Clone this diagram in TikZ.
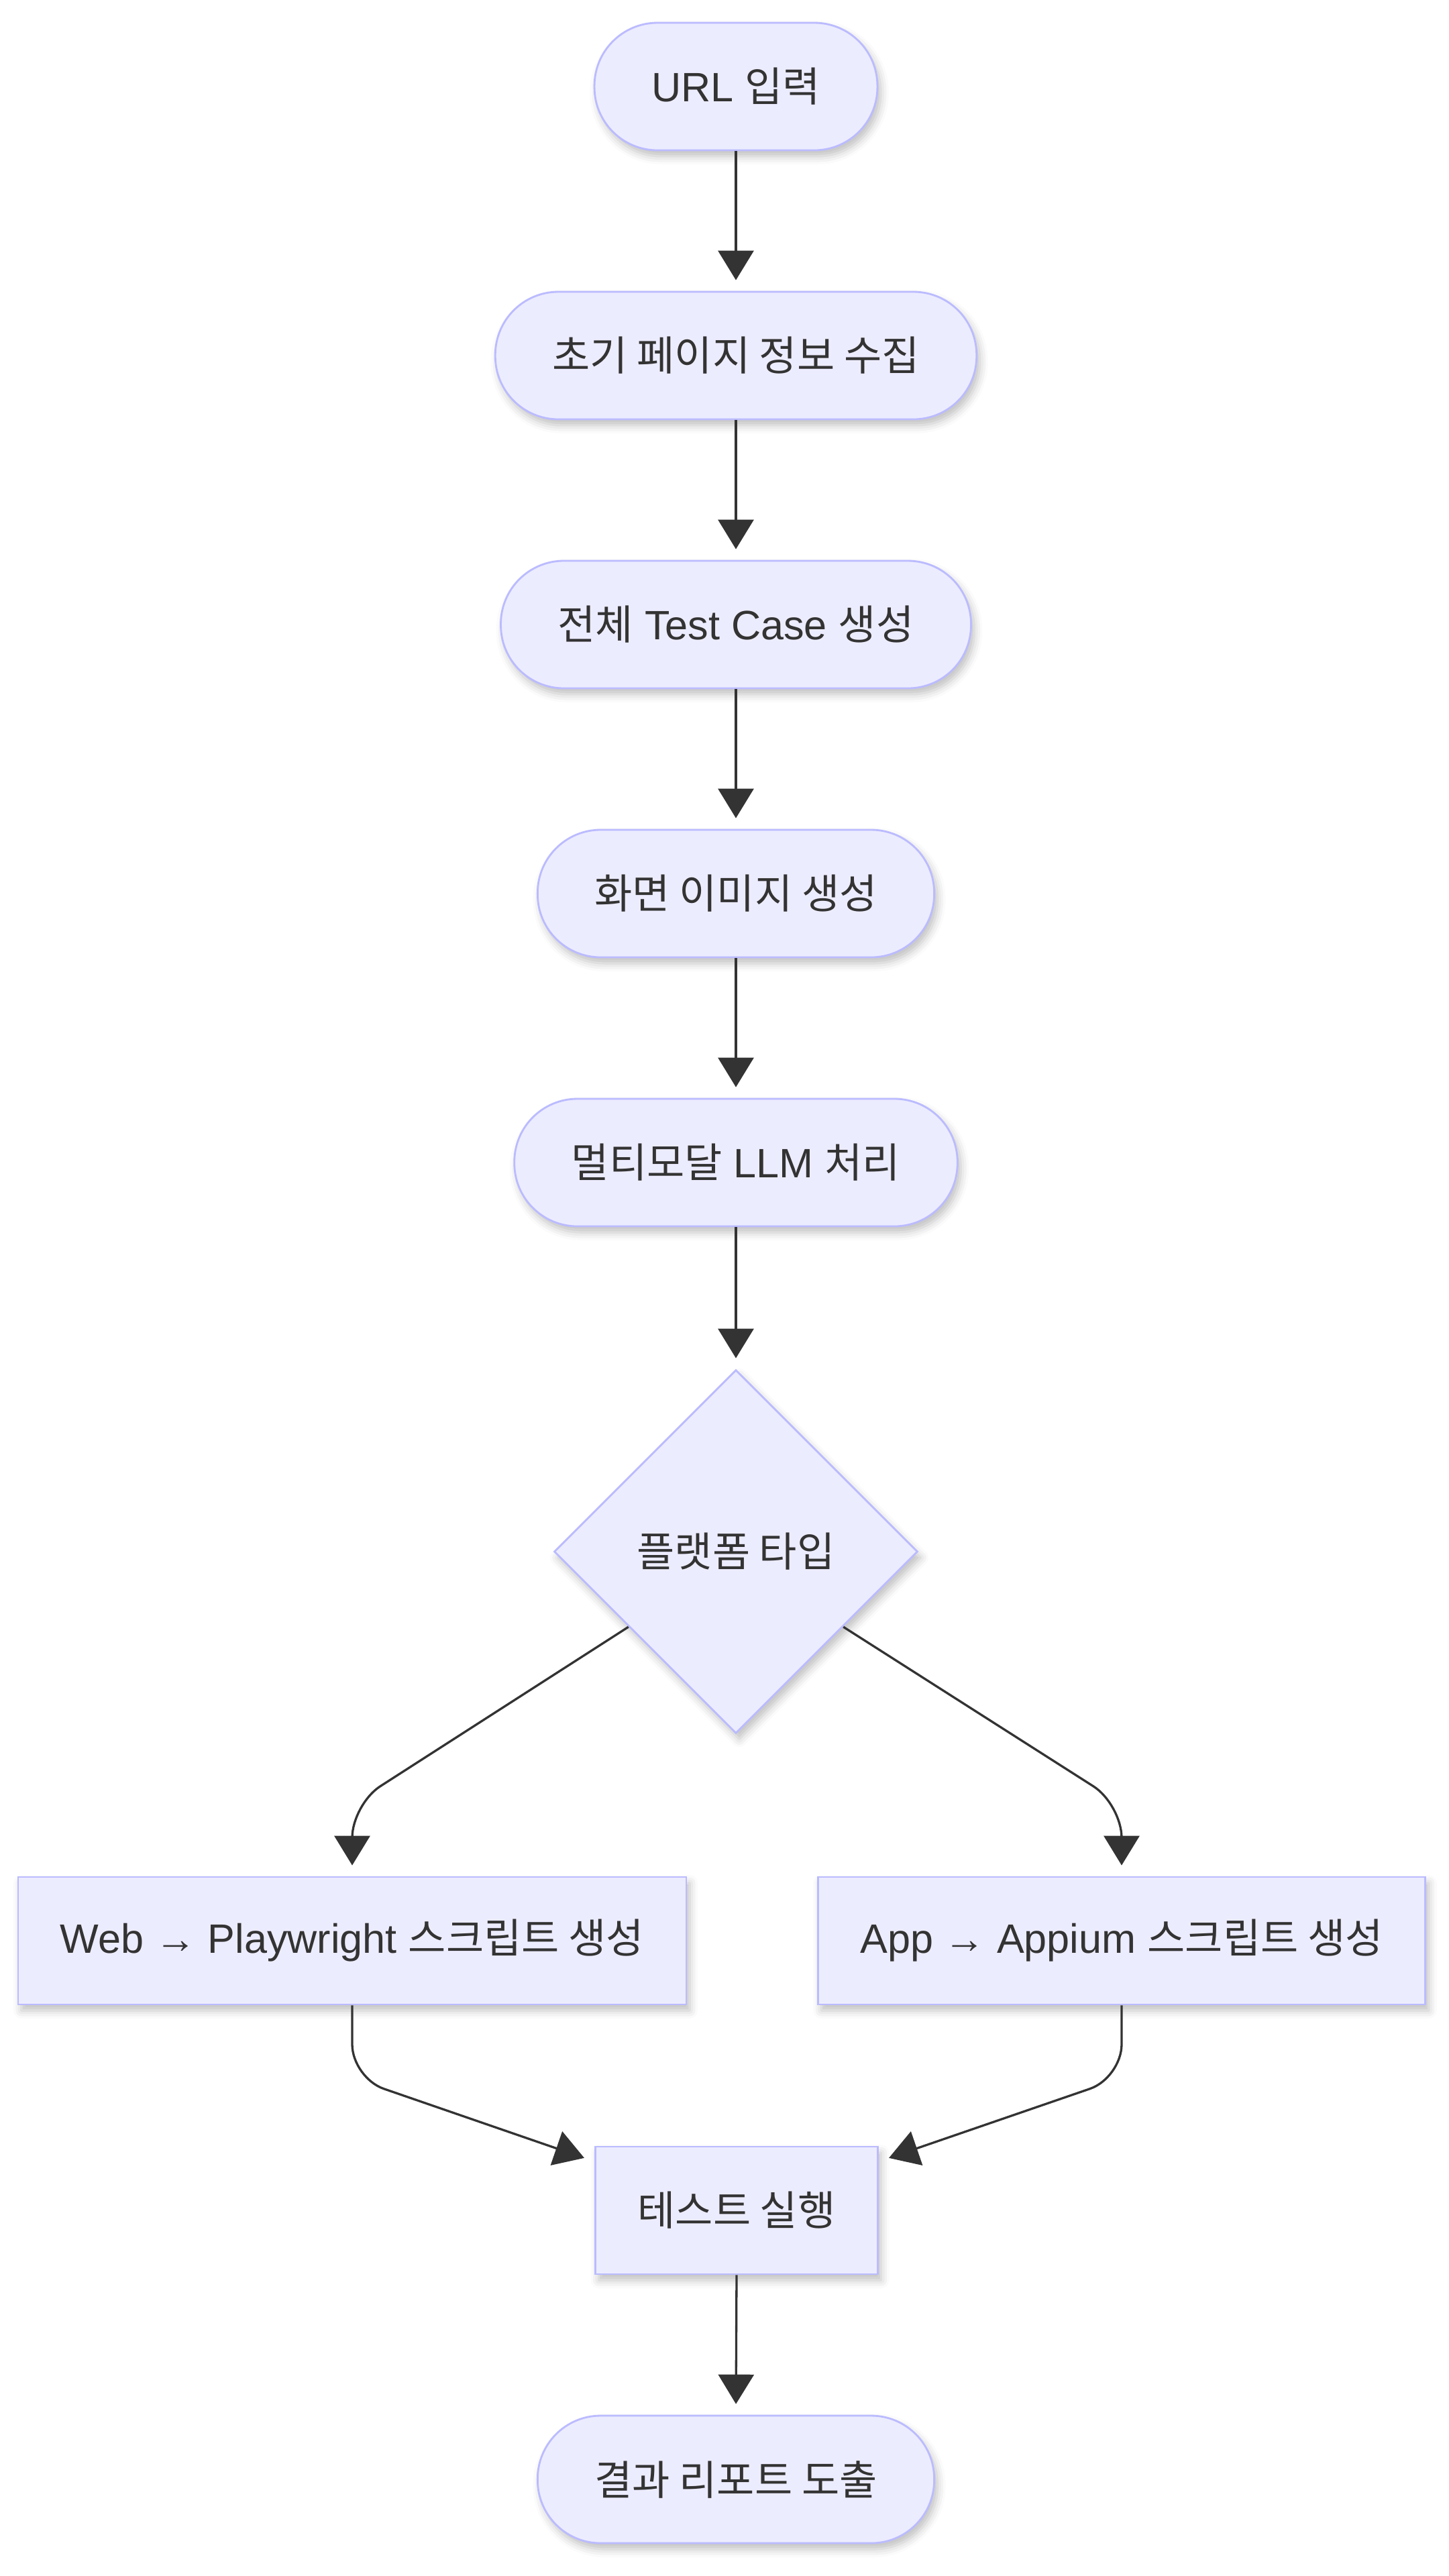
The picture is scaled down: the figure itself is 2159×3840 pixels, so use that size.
\documentclass[tikz,border=0pt]{standalone}
\usepackage{fontspec}
\setmainfont{Liberation Sans}
\newfontfamily\kr{Noto Sans CJK KR}
\usetikzlibrary{arrows.meta,shapes.geometric,calc,shadows.blur}
\definecolor{nodefill}{HTML}{ECECFF}
\definecolor{nodeline}{HTML}{BBBBFF}
\definecolor{ink}{HTML}{333333}
\begin{document}
\begin{tikzpicture}[x=0.1mm,y=-0.1mm,
  box/.style={draw=nodeline,fill=nodefill,line width=0.28mm,text=ink,font=\fontsize{17.4}{20}\selectfont,minimum height=19mm,inner ysep=0pt,blur shadow={shadow xshift=0.5mm,shadow yshift=-0.9mm,shadow blur radius=1.2mm,shadow opacity=25}},
  pill/.style={box,rounded corners=9.4mm,inner xsep=8.5mm},
  plain/.style={box,inner xsep=6.3mm},
  choice/.style={box,diamond,minimum width=54.2mm,minimum height=54.2mm,inner sep=0pt},
  flow/.style={draw=ink,line width=0.33mm,-{Triangle[length=4.4mm,width=5.3mm]},shorten >=1.6mm,rounded corners=5mm}]
\useasboundingbox (0,0) rectangle (2159,3840);
\node[pill] (url) at (1097,129) {URL {\kr 입력}};
\node[pill] (init) at (1097,530) {{\kr 초기 페이지 정보 수집}};
\node[pill] (tc) at (1097,931) {{\kr 전체} Test Case {\kr 생성}};
\node[pill] (img) at (1097,1332) {{\kr 화면 이미지 생성}};
\node[pill] (llm) at (1097,1733) {{\kr 멀티모달} LLM {\kr 처리}};
\node[choice] (plat) at (1097,2313) {{\kr 플랫폼 타입}};
\node[plain] (web) at (525,2893) {Web → Playwright {\kr 스크립트 생성}};
\node[plain] (app) at (1672,2893) {App → Appium {\kr 스크립트 생성}};
\node[plain] (run) at (1098,3295) {{\kr 테스트 실행}};
\node[pill] (rep) at (1097,3696) {{\kr 결과 리포트 도출}};
\draw[flow] (url.south) -- (init.north);
\draw[flow] (init.south) -- (tc.north);
\draw[flow] (tc.south) -- (img.north);
\draw[flow] (img.south) -- (llm.north);
\draw[flow] (llm.south) -- (plat.north);
\draw[flow] (plat.-145) -- ($(web.north)+(0,-107)$) -- (web.north);
\draw[flow] (plat.-35) -- ($(app.north)+(0,-107)$) -- (app.north);
\draw[flow] (web.south) -- ($(web.south)+(0,108)$) -- (run.161);
\draw[flow] (app.south) -- ($(app.south)+(0,108)$) -- (run.19);
\draw[flow] (run.south) -- (rep.north);
\end{tikzpicture}
\end{document}
